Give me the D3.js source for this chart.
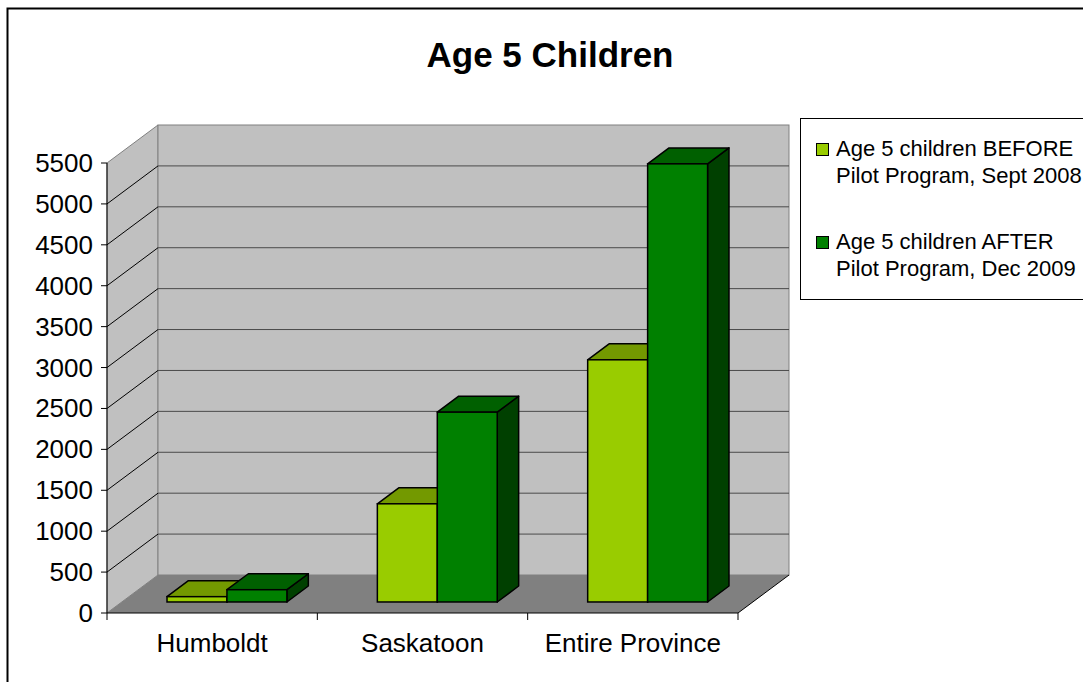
<!DOCTYPE html>
<html>
<head>
<meta charset="utf-8">
<script src="https://cdn.jsdelivr.net/npm/d3@7/dist/d3.min.js"></script>
<style>
  body { margin: 0; background: #fff; }
  svg { display: block; font-family: "Liberation Sans", Arial, sans-serif; }
</style>
</head>
<body>
<svg id="chart" width="1083" height="682"></svg>
<script>
// chart data
const categories = ['Humboldt', 'Saskatoon', 'Entire Province'];
const seriesNames = ['Age 5 children BEFORE Pilot Program, Sept 2008', 'Age 5 children AFTER Pilot Program, Dec 2009'];
const beforeValues = [65, 1200, 2960];
const afterValues = [150, 2320, 5355];
const yTicks = [0, 500, 1000, 1500, 2000, 2500, 3000, 3500, 4000, 4500, 5000, 5500];
const legendLines = [
  ['Age 5 children BEFORE', 'Pilot Program, Sept 2008'],
  ['Age 5 children AFTER', 'Pilot Program, Dec 2009']
];

const svg = d3.select('#chart');

// plot geometry (front plane + depth offset)
const plotLeft = 107, plotRight = 738, plotBottom = 613, plotTop = 163;
const depthX = 51, depthY = -38;
const barFront = 0.29, barBack = 0.71;

const x = d3.scaleBand()
  .domain(categories)
  .range([plotLeft, plotRight])
  .paddingInner(0.43)
  .paddingOuter(0.215);

const xSub = d3.scaleBand()
  .domain(seriesNames)
  .range([0, x.bandwidth()]);

const y = d3.scaleLinear()
  .domain([0, 5500])
  .range([plotBottom, plotTop]);

// outer chart border
svg.append('rect')
  .attr('x', 7.5).attr('y', 8.5)
  .attr('width', 1100).attr('height', 700)
  .attr('fill', 'none')
  .attr('stroke', '#000')
  .attr('stroke-width', 2);

// title
svg.append('text')
  .attr('x', 550).attr('y', 67)
  .attr('text-anchor', 'middle')
  .attr('font-size', '35px')
  .attr('font-weight', 'bold')
  .text('Age 5 Children');

// walls
const pt = (px, py) => px + ',' + py;
svg.append('polygon')
  .attr('points', [pt(plotLeft, y(0)), pt(plotLeft + depthX, y(0) + depthY), pt(plotLeft + depthX, y(5500) + depthY), pt(plotLeft, y(5500))].join(' '))
  .attr('fill', '#c0c0c0')
  .attr('stroke', '#808080');

svg.append('rect')
  .attr('x', plotLeft + depthX).attr('y', y(5500) + depthY)
  .attr('width', plotRight - plotLeft).attr('height', y(0) - y(5500))
  .attr('fill', '#c0c0c0')
  .attr('stroke', '#808080');

// gridlines
const grid = yTicks.filter(v => v > 0 && v < 5500);
svg.append('g').selectAll('line')
  .data(grid)
  .enter().append('line')
  .attr('x1', plotLeft + depthX).attr('x2', plotRight + depthX)
  .attr('y1', d => y(d) + depthY).attr('y2', d => y(d) + depthY)
  .attr('stroke', '#4a4a4a')
  .attr('stroke-width', 1);

svg.append('g').selectAll('line')
  .data(grid)
  .enter().append('line')
  .attr('x1', plotLeft).attr('x2', plotLeft + depthX)
  .attr('y1', d => y(d)).attr('y2', d => y(d) + depthY)
  .attr('stroke', '#000')
  .attr('stroke-width', 1);

// floor
svg.append('polygon')
  .attr('points', [pt(plotLeft, y(0)), pt(plotRight, y(0)), pt(plotRight + depthX, y(0) + depthY), pt(plotLeft + depthX, y(0) + depthY)].join(' '))
  .attr('fill', '#808080');

svg.append('line')
  .attr('x1', plotRight).attr('y1', y(0))
  .attr('x2', plotRight + depthX).attr('y2', y(0) + depthY)
  .attr('stroke', '#000');

// axes
svg.append('line')
  .attr('x1', plotLeft).attr('x2', plotLeft)
  .attr('y1', y(5500)).attr('y2', y(0))
  .attr('stroke', '#000');

svg.append('line')
  .attr('x1', plotLeft).attr('x2', plotRight)
  .attr('y1', y(0)).attr('y2', y(0))
  .attr('stroke', '#000');

const yAxis = svg.append('g');
yAxis.selectAll('line')
  .data(yTicks)
  .enter().append('line')
  .attr('x1', plotLeft - 6).attr('x2', plotLeft)
  .attr('y1', d => y(d)).attr('y2', d => y(d))
  .attr('stroke', '#000');
yAxis.selectAll('text')
  .data(yTicks)
  .enter().append('text')
  .attr('x', 93)
  .attr('y', d => y(d) + 9)
  .attr('text-anchor', 'end')
  .attr('font-size', '26px')
  .text(d => d);

const xTickPos = [plotLeft].concat(categories.map(c => x(c) + x.bandwidth() + x.step() * x.paddingInner() / 2));
svg.append('g').selectAll('line')
  .data(xTickPos)
  .enter().append('line')
  .attr('x1', d => d).attr('x2', d => d)
  .attr('y1', y(0)).attr('y2', y(0) + 7)
  .attr('stroke', '#000');

svg.append('g').selectAll('text')
  .data(categories)
  .enter().append('text')
  .attr('x', d => x(d) + x.bandwidth() / 2)
  .attr('y', 652)
  .attr('text-anchor', 'middle')
  .attr('font-size', '26px')
  .text(d => d);

// 3D bars
const colors = [
  { front: '#99cc00', top: '#739900', side: '#4d6600' },
  { front: '#008000', top: '#006000', side: '#004000' }
];

const bars = [];
categories.forEach((c, i) => {
  bars.push({ cat: c, s: 0, value: beforeValues[i] });
  bars.push({ cat: c, s: 1, value: afterValues[i] });
});

const offX = depthX * barFront, offY = depthY * barFront;
const bdX = depthX * (barBack - barFront), bdY = depthY * (barBack - barFront);

const barG = svg.append('g').selectAll('g')
  .data(bars)
  .enter().append('g');

barG.each(function (d) {
  const g = d3.select(this);
  const x0 = x(d.cat) + xSub(seriesNames[d.s]) + offX;
  const w = xSub.bandwidth();
  const yb = y(0) + offY;
  const yt = y(d.value) + offY;
  const col = colors[d.s];
  g.append('polygon')
    .attr('points', [pt(x0 + w, yt), pt(x0 + w + bdX, yt + bdY), pt(x0 + w + bdX, yb + bdY), pt(x0 + w, yb)].join(' '))
    .attr('fill', col.side).attr('stroke', '#000').attr('stroke-width', 1.5).attr('stroke-linejoin', 'round');
  g.append('polygon')
    .attr('points', [pt(x0, yt), pt(x0 + w, yt), pt(x0 + w + bdX, yt + bdY), pt(x0 + bdX, yt + bdY)].join(' '))
    .attr('fill', col.top).attr('stroke', '#000').attr('stroke-width', 1.5).attr('stroke-linejoin', 'round');
  g.append('rect')
    .attr('x', x0).attr('y', yt)
    .attr('width', w).attr('height', yb - yt)
    .attr('fill', col.front).attr('stroke', '#000').attr('stroke-width', 1.5);
});

// legend
svg.append('rect')
  .attr('x', 800.5).attr('y', 118.5)
  .attr('width', 300).attr('height', 181)
  .attr('fill', '#fff')
  .attr('stroke', '#000');

const leg = svg.append('g').selectAll('g')
  .data(legendLines)
  .enter().append('g')
  .attr('transform', (d, i) => 'translate(0,' + (i * 93) + ')');

leg.append('rect')
  .attr('x', 816.5).attr('y', 143.5)
  .attr('width', 12).attr('height', 12)
  .attr('fill', (d, i) => colors[i].front)
  .attr('stroke', '#000');

leg.append('text')
  .attr('font-size', '22px')
  .selectAll('tspan')
  .data(d => d)
  .enter().append('tspan')
  .attr('x', 836)
  .attr('y', (d, j) => 156 + j * 27)
  .text(d => d);
</script>
</body>
</html>
